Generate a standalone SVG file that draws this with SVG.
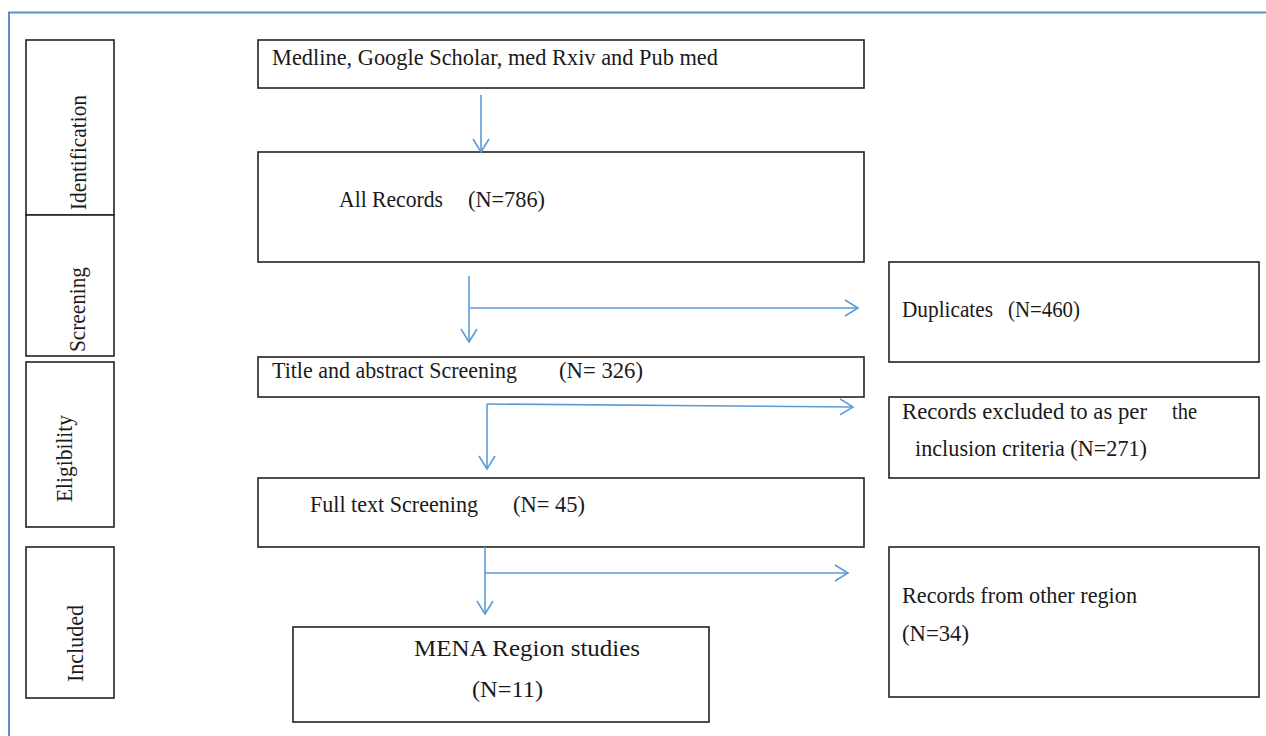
<svg xmlns="http://www.w3.org/2000/svg" width="1266" height="736" viewBox="0 0 1266 736">
<defs>
<style>
.box{fill:#fff;stroke:#222;stroke-width:1.6}
.t{font-family:"Liberation Serif","Times New Roman",serif;font-size:23px;fill:#1a1a1a}
.c{fill:none;stroke:#5b9bd5;stroke-width:1.6}
.frame{fill:none;stroke:#5b8ccc;stroke-width:2}
</style>
<marker id="ah" markerUnits="userSpaceOnUse" markerWidth="20" markerHeight="20" refX="14" refY="9" orient="auto">
<path d="M1,1 L14,9 L1,17" fill="none" stroke="#5b9bd5" stroke-width="1.6"/>
</marker>
</defs>
<rect width="1266" height="736" fill="#fff"/>
<path class="frame" d="M9,740 L9,12.5 L1270,12.5"/>

<g id="stage-identification">
<rect class="box" x="26" y="40" width="88" height="175"/>
<text class="t" transform="translate(86,210) rotate(-90)" textLength="115" lengthAdjust="spacingAndGlyphs">Identification</text>
</g>
<g id="stage-screening">
<rect class="box" x="26" y="215" width="88" height="141"/>
<text class="t" transform="translate(85,352) rotate(-90)" textLength="85" lengthAdjust="spacingAndGlyphs">Screening</text>
</g>
<g id="stage-eligibility">
<rect class="box" x="26" y="362" width="88" height="165"/>
<text class="t" transform="translate(72,502) rotate(-90)" textLength="87" lengthAdjust="spacingAndGlyphs">Eligibility</text>
</g>
<g id="stage-included">
<rect class="box" x="26" y="547" width="88" height="151"/>
<text class="t" transform="translate(83,682) rotate(-90)" textLength="77" lengthAdjust="spacingAndGlyphs">Included</text>
</g>

<g id="sources">
<rect class="box" x="258" y="40" width="606" height="48"/>
<text class="t" x="272" y="65" textLength="446" lengthAdjust="spacingAndGlyphs">Medline, Google Scholar, med Rxiv and Pub med</text>
</g>
<g id="all-records">
<rect class="box" x="258" y="152" width="606" height="110"/>
<text class="t" x="339" y="207" textLength="104" lengthAdjust="spacingAndGlyphs">All Records</text>
<text class="t" x="468" y="207" textLength="77" lengthAdjust="spacingAndGlyphs">(N=786)</text>
</g>
<g id="title-abstract">
<rect class="box" x="258" y="357" width="606" height="40"/>
<text class="t" x="272" y="378" textLength="245" lengthAdjust="spacingAndGlyphs">Title and abstract Screening</text>
<text class="t" x="559" y="378" textLength="84" lengthAdjust="spacingAndGlyphs">(N= 326)</text>
</g>
<g id="full-text">
<rect class="box" x="258" y="478" width="606" height="69"/>
<text class="t" x="310" y="512" textLength="168" lengthAdjust="spacingAndGlyphs">Full text Screening</text>
<text class="t" x="513" y="512" textLength="72" lengthAdjust="spacingAndGlyphs">(N= 45)</text>
</g>
<g id="mena">
<rect class="box" x="293" y="627" width="416" height="95"/>
<text class="t" x="414" y="656" textLength="226" lengthAdjust="spacingAndGlyphs">MENA Region studies</text>
<text class="t" x="472" y="697" textLength="71" lengthAdjust="spacingAndGlyphs">(N=11)</text>
</g>
<g id="duplicates">
<rect class="box" x="889" y="262" width="370" height="100"/>
<text class="t" x="902" y="317" textLength="91" lengthAdjust="spacingAndGlyphs">Duplicates</text>
<text class="t" x="1008" y="317" textLength="72" lengthAdjust="spacingAndGlyphs">(N=460)</text>
</g>
<g id="excluded">
<rect class="box" x="889" y="397" width="370" height="81"/>
<text class="t" x="902" y="419" textLength="245" lengthAdjust="spacingAndGlyphs">Records excluded to  as per</text>
<text class="t" x="1172" y="419" textLength="25" lengthAdjust="spacingAndGlyphs">the</text>
<text class="t" x="915" y="456" textLength="232" lengthAdjust="spacingAndGlyphs">inclusion criteria (N=271)</text>
</g>
<g id="other-region">
<rect class="box" x="889" y="547" width="370" height="150"/>
<text class="t" x="902" y="603" textLength="235" lengthAdjust="spacingAndGlyphs">Records from other region</text>
<text class="t" x="902" y="641" textLength="67" lengthAdjust="spacingAndGlyphs">(N=34)</text>
</g>

<g id="connectors">
<line class="c" x1="481" y1="95" x2="481" y2="152" marker-end="url(#ah)"/>
<line class="c" x1="469" y1="276" x2="469" y2="342" marker-end="url(#ah)"/>
<line class="c" x1="470" y1="308" x2="858" y2="308" marker-end="url(#ah)"/>
<line class="c" x1="487" y1="404" x2="853" y2="407" marker-end="url(#ah)"/>
<line class="c" x1="487" y1="404" x2="487" y2="469" marker-end="url(#ah)"/>
<line class="c" x1="485" y1="547" x2="485" y2="614" marker-end="url(#ah)"/>
<line class="c" x1="485" y1="573" x2="848" y2="573" marker-end="url(#ah)"/>
</g>
</svg>
